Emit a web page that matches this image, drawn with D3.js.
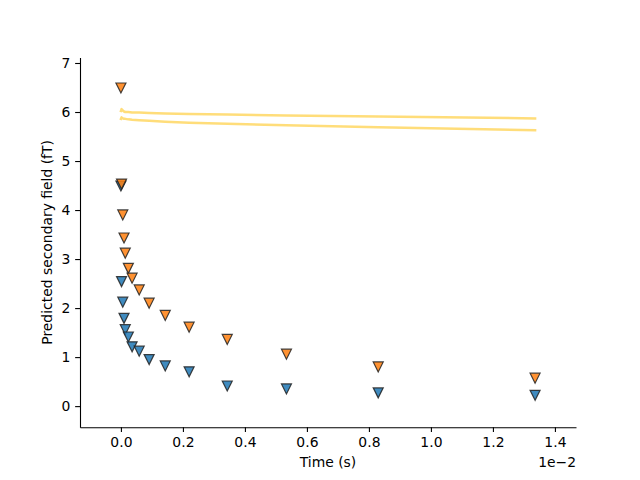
<!DOCTYPE html>
<html>
<head>
<meta charset="utf-8">
<script src="https://cdn.jsdelivr.net/npm/d3@7"></script>
<style>
  body { margin: 0; background: #fff; }
  text { font-family: "DejaVu Sans", sans-serif; }
</style>
</head>
<body>
<svg id="chart" width="640" height="480"></svg>
<script>
// Time in units of 1e-2 s
const times = [0.000, 0.002, 0.006, 0.010, 0.014, 0.024, 0.036, 0.059, 0.091, 0.143, 0.220, 0.343, 0.534, 0.830, 1.336];
const seriesBlue = [4.49, 2.54, 2.12, 1.79, 1.56, 1.41, 1.21, 1.12, 0.95, 0.82, 0.70, 0.41, 0.35, 0.27, 0.22];
const seriesOrange = [6.49, 4.53, 3.90, 3.43, 3.12, 2.81, 2.61, 2.37, 2.10, 1.85, 1.61, 1.36, 1.06, 0.80, 0.57];
const lineUpper = [6.02, 6.06, 6.03, 6.01, 6.00, 6.00, 5.99, 5.99, 5.98, 5.97, 5.96, 5.95, 5.93, 5.91, 5.87];
const lineLower = [5.86, 5.89, 5.87, 5.86, 5.86, 5.85, 5.84, 5.83, 5.82, 5.80, 5.78, 5.76, 5.73, 5.69, 5.63];
const xTicks = [0.0, 0.2, 0.4, 0.6, 0.8, 1.0, 1.2, 1.4];
const yTicks = [0, 1, 2, 3, 4, 5, 6, 7];

const svg = d3.select("#chart");
const mLeft = 80, mRight = 576, mTop = 57.6, mBottom = 427.2;
const x = d3.scaleLinear().domain([-0.132, 1.468]).range([mLeft, mRight]);
const y = d3.scaleLinear().domain([-0.43, 7.11]).range([mBottom, mTop]);

const fs = 13.9;
// Axes
const xAxis = svg.append("g").attr("transform", `translate(0,${mBottom})`)
  .call(d3.axisBottom(x).tickValues(xTicks).tickFormat(d3.format(".1f")).tickSize(4.86).tickPadding(4.86).tickSizeOuter(0));
const yAxis = svg.append("g").attr("transform", `translate(${mLeft},0)`)
  .call(d3.axisLeft(y).tickValues(yTicks).tickFormat(d3.format("d")).tickSize(4.86).tickPadding(4.86).tickSizeOuter(0));
[xAxis, yAxis].forEach(g => {
  g.selectAll("text").attr("font-size", fs).attr("fill", "#000").attr("font-family", "DejaVu Sans");
  g.selectAll("line").attr("stroke", "#000").attr("stroke-width", 1.1);
  g.select(".domain").attr("stroke", "#000").attr("stroke-width", 1.1);
});

// Lines
const line = d3.line().x((d, i) => x(times[i])).y(d => y(d));
[lineUpper, lineLower].forEach(arr => {
  svg.append("path").datum(arr).attr("d", line)
    .attr("fill", "none").attr("stroke", "#ffd24d").attr("stroke-opacity", 0.75)
    .attr("stroke-width", 2.5).attr("stroke-linejoin", "round").attr("stroke-linecap", "square");
});

// Markers (triangle down)
const h = 5;
const tri = `M0,${h} L${-h},${-h} L${h},${-h} Z`;
function drawMarkers(vals, color) {
  svg.append("g").selectAll("path").data(vals).join("path")
    .attr("d", tri)
    .attr("transform", (d, i) => `translate(${x(times[i])},${y(d)})`)
    .attr("fill", color).attr("fill-opacity", 0.85)
    .attr("stroke", "#222").attr("stroke-opacity", 0.85).attr("stroke-width", 1.2)
    .attr("stroke-linejoin", "miter");
}
drawMarkers(seriesBlue, "#1f77b4");
drawMarkers(seriesOrange, "#ff7f0e");

// Labels
svg.append("text").attr("x", (mLeft + mRight) / 2).attr("y", 467)
  .attr("text-anchor", "middle").attr("font-size", fs).text("Time (s)");
svg.append("text").attr("transform", `translate(52,${(mTop + mBottom) / 2}) rotate(-90)`)
  .attr("text-anchor", "middle").attr("font-size", fs).text("Predicted secondary field (fT)");
svg.append("text").attr("x", mRight).attr("y", 467)
  .attr("text-anchor", "end").attr("font-size", fs).text("1e\u22122");
</script>
</body>
</html>
